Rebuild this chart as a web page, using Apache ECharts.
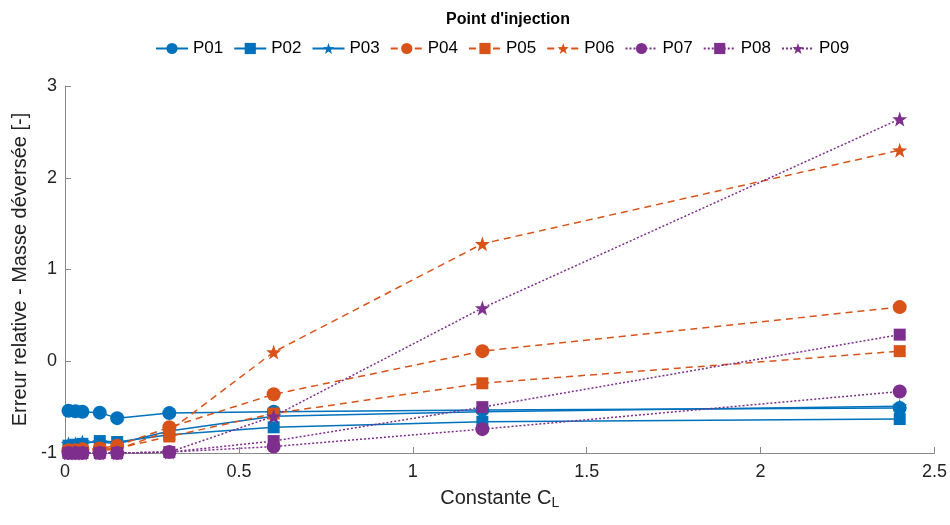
<!DOCTYPE html>
<html><head><meta charset="utf-8">
<script src="https://cdn.jsdelivr.net/npm/echarts@6/dist/echarts.min.js"></script>
<style>html,body{margin:0;padding:0;background:#fff}#c{width:950px;height:525px}</style>
</head><body><div id="c"></div>
<script>
const xValues = [0.01, 0.03, 0.05, 0.1, 0.15, 0.3, 0.6, 1.2, 2.4];
const seriesNames = ['P01','P02','P03','P04','P05','P06','P07','P08','P09'];
const P01 = [-0.54, -0.545, -0.55, -0.56, -0.62, -0.565, -0.55, -0.53, -0.51];
const P02 = [-0.92, -0.91, -0.9, -0.87, -0.88, -0.8, -0.72, -0.66, -0.63];
const P03 = [-0.9, -0.9, -0.88, -0.88, -0.9, -0.76, -0.6, -0.55, -0.49];
const P04 = [-0.97, -0.97, -0.96, -0.95, -0.92, -0.72, -0.36, 0.11, 0.59];
const P05 = [-0.98, -0.98, -0.97, -0.96, -0.95, -0.82, -0.57, -0.24, 0.11];
const P06 = [-0.99, -0.99, -0.98, -0.97, -0.96, -0.76, 0.1, 1.28, 2.3];
const P07 = [-1, -1, -1, -1, -1, -0.99, -0.93, -0.74, -0.33];
const P08 = [-1, -1, -1, -1, -1, -0.99, -0.87, -0.5, 0.29];
const P09 = [-1, -1, -1, -1, -1, -0.99, -0.6, 0.58, 2.64];
const xTicks = [0, 0.5, 1, 1.5, 2, 2.5];
const yTicks = [-1, 0, 1, 2, 3];

const allData = [P01,P02,P03,P04,P05,P06,P07,P08,P09];
const colors = ['#0072BD','#0072BD','#0072BD','#D95319','#D95319','#D95319','#7E2F8E','#7E2F8E','#7E2F8E'];
const symbols = ['circle','rect','path://M0,-10L2.35,-3.24L9.51,-3.09L3.8,1.24L5.88,8.09L0,4L-5.88,8.09L-3.8,1.24L-9.51,-3.09L-2.35,-3.24Z'];
const symSizes = [14, 12, 15];
const lineTypes = ['solid', [7,5], [2,2]];

const series = allData.map((arr, i) => ({
  name: seriesNames[i],
  type: 'line',
  data: arr.map((v, k) => [xValues[k], v]),
  symbol: symbols[i % 3],
  symbolSize: symSizes[i % 3],
  showAllSymbol: true,
  itemStyle: { color: colors[i] },
  lineStyle: { color: colors[i], width: 1.5, type: lineTypes[Math.floor(i / 3)] },
  emphasis: { disabled: true },
  animation: false
}));

const chart = echarts.init(document.getElementById('c'));
chart.setOption({
  backgroundColor: '#fff',
  animation: false,
  textStyle: { fontFamily: 'Liberation Sans, Arial, sans-serif' },
  title: {
    text: "Point d'injection",
    left: 503, top: 7, textAlign: 'center',
    textStyle: { fontSize: 16, fontWeight: 'bold', color: '#000', fontFamily: 'Liberation Sans, Arial, sans-serif' }
  },
  legend: {
    top: 35, left: 150,
    itemWidth: 32, itemHeight: 14, itemGap: 10,
    textStyle: { fontSize: 17, color: '#000', fontFamily: 'Liberation Sans, Arial, sans-serif' },
    data: seriesNames
  },
  grid: { left: 65, right: 15, top: 86, bottom: 72, containLabel: false },
  xAxis: {
    type: 'value', min: 0, max: 2.5, interval: 0.5,
    name: 'Constante C{sub|L}',
    nameLocation: 'middle', nameGap: 33,
    nameTextStyle: { fontSize: 20, color: '#222', rich: { sub: { fontSize: 14, verticalAlign: 'bottom', padding: [10,0,0,0], color: '#222' } } },
    axisLine: { show: true, onZero: false, lineStyle: { color: '#888', width: 1 } },
    axisTick: { show: true, inside: true, length: 6, lineStyle: { color: '#888' } },
    axisLabel: { fontSize: 18, color: '#222', margin: 10, formatter: v => xTicks.includes(v) ? String(v) : '' },
    splitLine: { show: false }
  },
  yAxis: {
    type: 'value', min: -1, max: 3, interval: 1,
    name: 'Erreur relative - Masse déversée [-]',
    nameLocation: 'middle', nameGap: 30,
    nameTextStyle: { fontSize: 20, color: '#222' },
    axisLine: { show: true, onZero: false, lineStyle: { color: '#888', width: 1 } },
    axisTick: { show: true, inside: true, length: 6, lineStyle: { color: '#888' } },
    axisLabel: { fontSize: 18, color: '#222', margin: 8, formatter: v => yTicks.includes(v) ? String(v) : '' },
    splitLine: { show: false }
  },
  series: series
});
</script></body></html>
